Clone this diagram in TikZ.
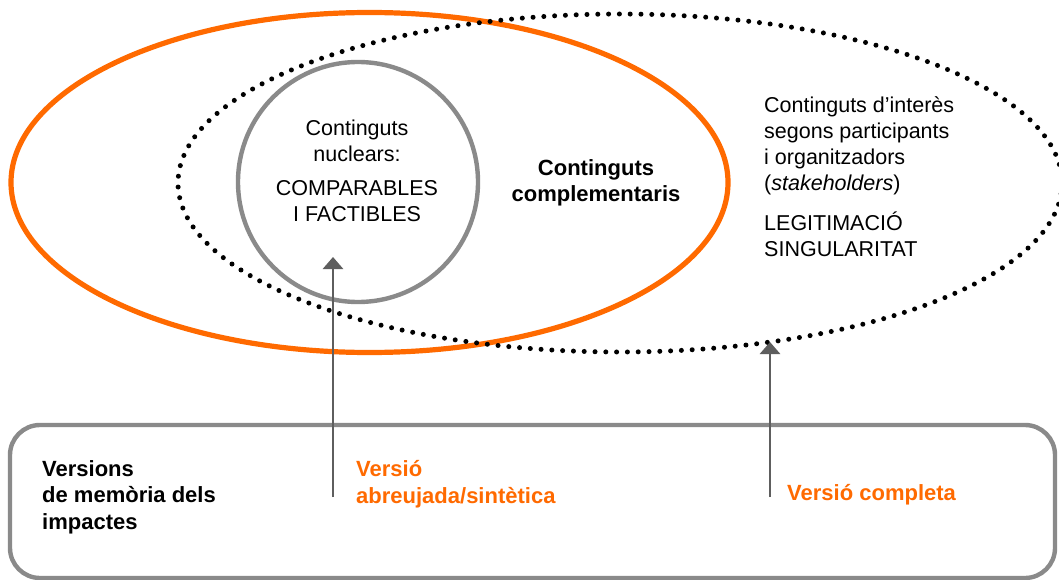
\documentclass[tikz,border=0pt]{standalone}
\usepackage{fontspec}
\setmainfont{Liberation Sans}
\usetikzlibrary{arrows.meta}
\definecolor{orng}{HTML}{FF6A00}
\definecolor{circgray}{HTML}{8A8A8A}
\definecolor{arrgray}{HTML}{5E5E5E}
\begin{document}
\begin{tikzpicture}[x=1pt,y=-1pt,
  reg/.style={font=\fontsize{21.5}{26}\selectfont, inner sep=0pt},
  bld/.style={font=\fontsize{22}{26.5}\selectfont\bfseries, inner sep=0pt},
  arr/.style={draw=arrgray, line width=2.8pt, -{Triangle[width=20pt,length=12pt]}}]
\fill[white] (0,0) rectangle (1059,580);
\useasboundingbox (0,0) rectangle (1059,580);
% shapes
\draw[orng, line width=5.2pt] (369.5,182.5) ellipse [x radius=358.5, y radius=170];
\draw[black, line width=5pt, line cap=round, dash pattern=on 0pt off 10.8pt] (620,183) ellipse [x radius=442, y radius=169];
\draw[circgray, line width=4.4pt] (358,182) circle [radius=120];
\draw[circgray, line width=4.4pt, rounded corners=30pt] (10,425) rectangle (1055,578);
% texts
\node[reg, align=center] (nuc1) at (357,141) {Continguts\\nuclears:};
\node[reg, align=center] (nuc2) at (357,201.5) {COMPARABLES\\I FACTIBLES};
\node[bld, align=center] (comp) at (596,183) {Continguts\\complementaris};
\node[reg, align=left, anchor=west] (stk) at (764,146) {Continguts d’interès\\segons participants\\i organitzadors\\(\textit{stakeholders})};
\node[reg, align=left, anchor=west] (leg) at (764,234) {LEGITIMACIÓ\\SINGULARITAT};
\node[bld, align=left, anchor=west] (vers) at (42,497) {Versions\\de memòria dels\\impactes};
\node[bld, text=orng, align=left, anchor=west] (abre) at (356,484) {Versió\\abreujada/sintètica};
\node[bld, text=orng, anchor=west] (compl) at (787,495) {Versió completa};
% arrows
\coordinate (a1s) at (333,497);
\coordinate (a1e) at (333,257);
\coordinate (a2s) at (770,497);
\coordinate (a2e) at (770,342);
\draw[arr] (a1s) -- (a1e);
\draw[arr] (a2s) -- (a2e);
\end{tikzpicture}
\end{document}
